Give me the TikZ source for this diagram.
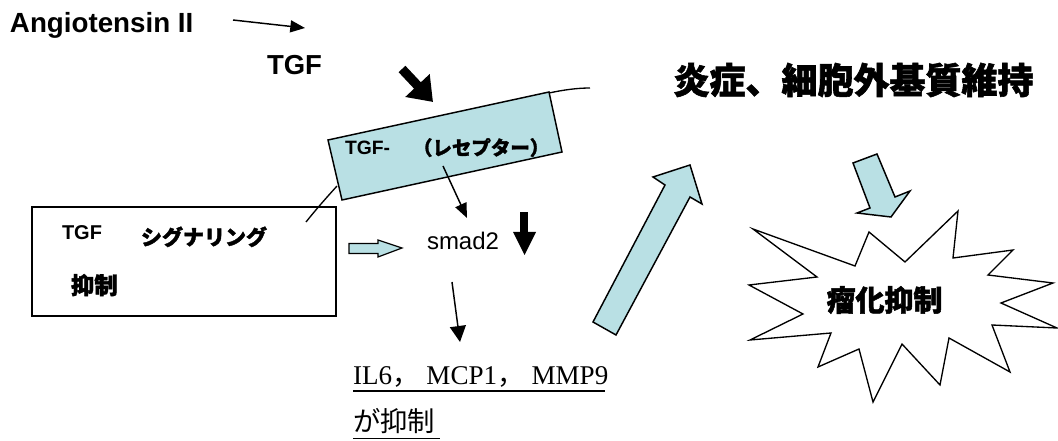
\documentclass[tikz,border=0pt]{standalone}
\usepackage{fontspec}
\setmainfont{Liberation Sans}
\newfontfamily\jp{Noto Sans CJK JP}[BoldFeatures={FakeBold=1.6}]
\newfontfamily\lserif{Liberation Serif}
\usetikzlibrary{arrows.meta}
\definecolor{lblue}{RGB}{185,224,228}
\tikzset{
  thinarrow/.style={line width=1.1pt, -{Triangle[length=11pt,width=9pt]}},
  outline/.style={draw=black, line width=1.1pt, line join=miter},
  bluefill/.style={outline, fill=lblue},
  txt/.style={inner sep=0pt, outer sep=0pt},
  jpbold/.style={txt, font=\jp\bfseries\fontsize{#1}{#1}\selectfont},
  latin/.style={txt, font=\fontsize{#1}{#1}\selectfont},
  latinb/.style={txt, font=\bfseries\fontsize{#1}{#1}\selectfont},
}
\begin{document}
\begin{tikzpicture}[x=0.75pt, y=-0.75pt]
\useasboundingbox (0,0) rectangle (1058,441);

% top texts
\node[latinb=20.8pt, anchor=base west] (ang) at (10,33) {Angiotensin II};
\coordinate (a1) at (233,20);
\coordinate (a2) at (305,28);
\draw[thinarrow] (a1) -- (a2);
\node[latinb=20.6pt, anchor=base west] (tgf) at (267,75) {TGF};

% big black arrow
\coordinate (bt) at (402,69);
\coordinate (bh) at (433,102);
\draw[line width=7pt, -{Triangle[length=17pt,width=24pt]}] (bt) -- (bh);

% membrane
\coordinate (m1) at (306,222);
\coordinate (m2) at (337,186);
\coordinate (m3) at (549,93);
\coordinate (m4) at (590,88);
\draw[line width=1pt] (m1) .. controls (318,207) and (328,196) .. (m2);
\draw[line width=1pt] (m3) .. controls (563,90) and (577,88) .. (m4);

% receptor
\draw[bluefill] (328,140) -- (549,92) -- (562,152) -- (342,200) -- cycle;
\node[latinb=14.5pt, anchor=base west] (rtgf) at (345,155) {TGF-};
\node[jpbold=14.6pt, anchor=base west] (rjp) at (413,155) {（レセプター）};

% left box
\draw[line width=1pt] (32,207) rectangle (336,316);
\node[latinb=15pt, anchor=base west] (btgf) at (62,240) {TGF};
\node[jpbold=15.75pt, anchor=base west] (bsig) at (141,245) {シグナリング};
\node[jpbold=17.5pt, anchor=base west] (byoku) at (71,294) {抑制};

% hollow arrow
\draw[bluefill, line width=0.9pt] (349,243.5) -- (378,243.5) -- (378,240) -- (402,248) -- (378,257) -- (378,253.5) -- (349,253.5) -- cycle;

% smad2
\node[latin=18pt, anchor=base west] (smad) at (427,250) {smad2};
\coordinate (r1) at (443,166);
\coordinate (r2) at (467,218);
\draw[thinarrow] (r1) -- (r2);
\fill (520,212) rectangle (528,233);
\fill (513,232) -- (536,232) -- (524.5,255) -- cycle;

% smad2 -> IL6
\coordinate (s1) at (452,282);
\coordinate (s2) at (460,342);
\draw[line width=1.1pt, -{Triangle[length=12pt,width=12pt]}] (s1) -- (s2);

% IL6 text
\node[txt, font=\lserif\fontsize{20.3pt}{20pt}\selectfont, anchor=base west] (il) at (353,385) {IL6{\jp ，}\hspace{5.5pt}MCP1{\jp ，}\hspace{5.5pt}MMP9};
\draw[line width=0.8pt] (353,391) -- (605,391);
\node[txt, font=\jp\fontsize{20.5pt}{20pt}\selectfont, anchor=base west] (ga) at (353,432) {が抑制};
\draw[line width=0.8pt] (353,438.5) -- (440,438.5);

% big blue arrow
\draw[bluefill] (593,322) -- (665,185) -- (653,177) -- (690,165) -- (702,204) -- (690,197) -- (616,335) -- cycle;

% title
\node[jpbold=27pt] (title) at (853.5,80) {炎症、細胞外基質維持};

% small blue arrow
\draw[bluefill] (853,163) -- (877,154) -- (895,197) -- (910,191) -- (891,217) -- (857,213) -- (870,208) -- cycle;

% starburst
\draw[outline, fill=white, line width=1pt] (753,229) -- (855,266) -- (869,232) -- (905,262) -- (958,211) -- (953,258) -- (1013,250) -- (988,275) -- (1053,283) -- (1001,303) -- (1057,328) -- (992,325) -- (1010,372) -- (949,338) -- (940,385) -- (902,344) -- (873,402) -- (859,349) -- (818,367) -- (831,333) -- (750,340) -- (803,314) -- (749,285) -- (817,277) -- cycle;
\node[jpbold=21.75pt] (ryu) at (884.5,300) {瘤化抑制};
\end{tikzpicture}
\end{document}
